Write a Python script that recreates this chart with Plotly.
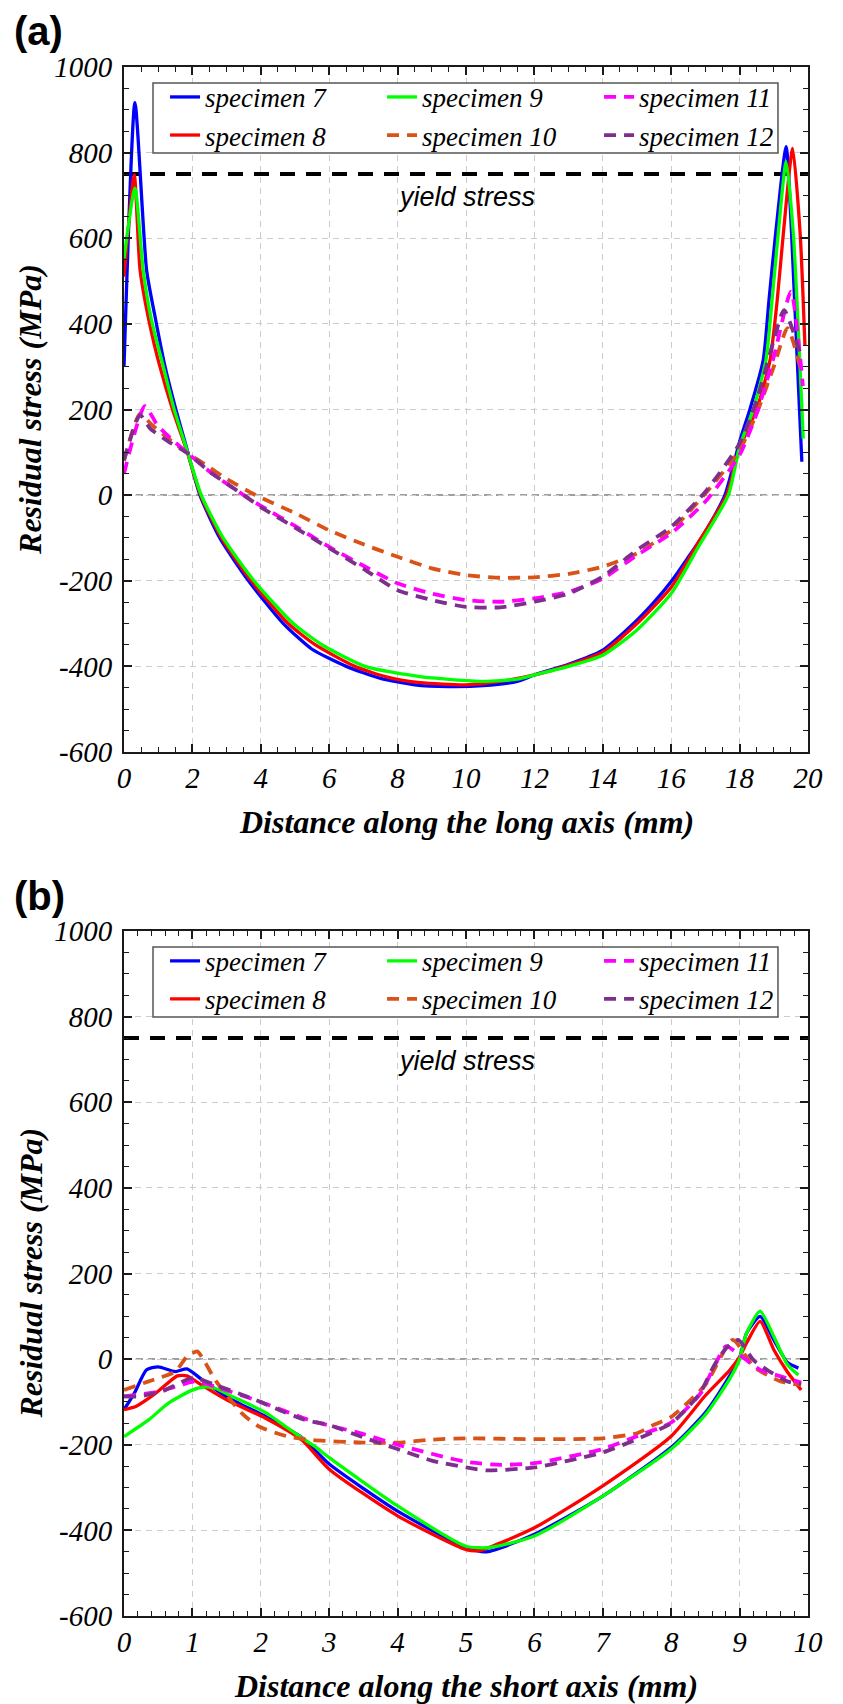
import plotly.graph_objects as go

# ---------------- data ----------------
SPECIMENS = ["specimen 7", "specimen 8", "specimen 9", "specimen 10", "specimen 11", "specimen 12"]
COLORS = ["#0000FF", "#FF0000", "#00FF00", "#D95319", "#FF00FF", "#7E2F8E"]
DASHES = ["solid", "solid", "solid", "12px,8px", "12px,8px", "12px,8px"]
LEGEND_RANK = [1, 4, 2, 5, 3, 6]

YIELD_STRESS = 750
YIELD_LABEL = "yield stress"

Y_TICKS = [-600, -400, -200, 0, 200, 400, 600, 800, 1000]
Y_TICKTEXT = ["-600", "-400", "-200", "0", "200", "400", "600", "800", "1000"]
XA_TICKS = [0, 2, 4, 6, 8, 10, 12, 14, 16, 18, 20]
XA_TICKTEXT = ["0", "2", "4", "6", "8", "10", "12", "14", "16", "18", "20"]
XB_TICKS = [0, 1, 2, 3, 4, 5, 6, 7, 8, 9, 10]
XB_TICKTEXT = ["0", "1", "2", "3", "4", "5", "6", "7", "8", "9", "10"]

# Panel (a): long axis
A7_X = [0, 0.32, 0.66, 0.9, 1.2, 1.5, 1.85, 2.22, 2.8, 3.64, 4.66, 5.5, 6.5, 7.5, 8.5, 9.5, 10.5, 11.5, 12, 13, 14,
        14.9, 15.5, 16, 16.5, 17, 17.57, 18, 18.3, 18.69, 18.86, 19.04, 19.36, 19.52, 19.82]
A7_Y = [300, 917, 526, 420, 300, 205, 105, 0, -100, -200, -300, -360, -400, -428, -443, -447, -445, -435, -420, -395, -362,
        -300, -250, -202, -145, -85, 0, 125, 200, 315, 456, 600, 814, 612, 78]

A8_X = [0, 0.3, 0.47, 0.75, 1.05, 1.42, 1.85, 2.24, 2.85, 3.72, 4.8, 5.6, 6.75, 7.7, 8.65, 10, 11, 12, 13, 14, 15, 16,
        16.8, 17.62, 18, 18.5, 18.89, 19.1, 19.28, 19.55, 19.77, 19.91]
A8_Y = [510, 748, 526, 400, 300, 200, 100, 0, -100, -200, -300, -350, -400, -425, -438, -443, -435, -420, -397, -367, -300, -215,
        -110, 0, 110, 200, 315, 456, 612, 810, 612, 350]

A9_X = [0, 0.32, 0.56, 0.8, 1.15, 1.45, 1.86, 2.26, 2.9, 3.8, 4.95, 5.8, 7.05, 8.65, 10.5, 11.5, 12, 13, 14, 15, 16, 16.8,
        17.67, 18, 18.4, 18.77, 18.95, 19.13, 19.36, 19.57, 19.86]
A9_Y = [553, 717, 526, 410, 300, 205, 100, 0, -100, -200, -300, -350, -400, -424, -435, -430, -420, -400, -374, -315, -230, -120,
        0, 113, 200, 315, 456, 612, 779, 612, 132]

A10_X = [0, 0.47, 0.8, 1.3, 1.88, 2.5, 3.0, 3.85, 5, 6, 7, 8, 9, 10, 11, 12, 13, 14, 15, 16, 17, 18, 18.5, 19.0, 19.4, 19.8]
A10_Y = [80, 190, 165, 132, 97, 65, 38, 0, -42, -82, -115, -144, -171, -187, -193, -192, -184, -167, -136, -82, 4, 105, 191, 300, 390, 290]

A11_X = [0, 0.61, 0.97, 1.4, 1.88, 2.5, 3.5, 4, 5, 6, 7, 8, 9, 10, 11, 12, 13, 14, 15, 16, 17, 18, 18.5, 19, 19.5, 19.85]
A11_Y = [50, 208, 164, 130, 97, 55, 0, -25, -72, -121, -165, -206, -230, -245, -249, -241, -226, -195, -140, -89, -15, 94, 191, 323, 475, 255]

A12_X = [0, 0.47, 0.76, 1.3, 1.88, 2.5, 3.5, 4, 5, 6, 7, 8, 9, 10, 11, 12, 13, 14, 15, 16, 17, 18, 18.5, 19, 19.3, 19.8]
A12_Y = [82, 187, 156, 125, 97, 55, 0, -28, -76, -124, -172, -222, -245, -261, -262, -249, -230, -190, -128, -74, 8, 121, 222, 362, 432, 323]

# Panel (b): short axis
B7_X = [0, 0.15, 0.33, 0.5, 0.75, 0.92, 1.14, 1.5, 2.07, 2.6, 3, 4, 5, 5.3, 6, 7, 8, 8.5, 8.86, 9.0, 9.1, 9.3, 9.5, 9.7, 9.86]
B7_Y = [-118, -80, -25, -18, -29, -23, -48, -88, -134, -183, -245, -355, -440, -450, -409, -320, -206, -125, -38, 2, 60, 100, 45, -8, -21]

B8_X = [0, 0.18, 0.47, 0.78, 0.92, 1.09, 1.5, 2.07, 2.6, 3, 4, 5, 5.2, 6, 7, 8, 8.5, 8.86, 9.0, 9.1, 9.3, 9.5, 9.7, 9.9]
B8_Y = [-118, -110, -79, -39, -39, -56, -95, -138, -189, -257, -366, -445, -447, -394, -296, -180, -85, -25, 5, 37, 88, 22, -30, -72]

B9_X = [0, 0.36, 0.65, 0.99, 1.19, 1.33, 1.58, 2.07, 2.5, 2.79, 3, 4, 5, 5.35, 6, 7, 8, 8.5, 8.86, 9.0, 9.1, 9.3, 9.5, 9.7, 9.86]
B9_Y = [-181, -142, -103, -73, -65, -68, -87, -125, -173, -204, -230, -343, -437, -440, -413, -320, -210, -130, -45, 0, 60, 112, 53, -13, -37]

B10_X = [0, 0.36, 0.75, 0.92, 1.07, 1.19, 1.33, 1.72, 1.97, 2.4, 2.75, 3.5, 4, 4.5, 5, 6, 7, 7.5, 7.74, 8.0, 8.5, 8.9, 9.2, 9.6, 9.9]
B10_Y = [-72, -52, -29, 6, 18, -9, -48, -126, -157, -181, -189, -195, -195, -188, -185, -187, -185, -173, -154, -135, -60, 45, -17, -52, -60]

B11_X = [0, 0.5, 0.92, 1.04, 1.33, 2, 2.7, 3.5, 4, 5, 5.5, 6, 7, 7.5, 8, 8.42, 8.62, 8.8, 9.0, 9.3, 9.6, 9.9]
B11_Y = [-87, -76, -56, -52, -64, -100, -142, -175, -200, -240, -247, -243, -210, -180, -148, -82, -20, 30, 10, -25, -40, -55]

B12_X = [0, 0.22, 0.56, 0.92, 1.04, 1.33, 1.92, 2.26, 2.65, 3, 3.5, 4, 4.5, 5, 5.3, 6, 6.5, 7, 7.5, 8, 8.2, 8.42, 8.62,
         8.8, 8.98, 9.2, 9.4, 9.7, 9.9]
B12_Y = [-87, -87, -75, -48, -44, -60, -95, -118, -142, -154, -183, -210, -237, -253, -260, -253, -237, -218, -187, -150, -120, -80, -17,
         25, 45, -2, -25, -52, -58]

PANEL_A = [(A7_X, A7_Y), (A8_X, A8_Y), (A9_X, A9_Y), (A10_X, A10_Y), (A11_X, A11_Y), (A12_X, A12_Y)]
PANEL_B = [(B7_X, B7_Y), (B8_X, B8_Y), (B9_X, B9_Y), (B10_X, B10_Y), (B11_X, B11_Y), (B12_X, B12_Y)]

# ---------------- figure ----------------
SERIF = "Liberation Serif"
SANS = "Liberation Sans"

fig = go.Figure()

for panel, xa, ya, leg in [(PANEL_A, "x", "y", "legend"), (PANEL_B, "x2", "y2", "legend2")]:
    for i, (xs, ys) in enumerate(panel):
        solid = DASHES[i] == "solid"
        fig.add_trace(go.Scatter(
            x=xs, y=ys, mode="lines", name=SPECIMENS[i],
            line=dict(color=COLORS[i], width=3.3 if solid else 3.8, dash=DASHES[i],
                      shape="spline", smoothing=0.6),
            xaxis=xa, yaxis=ya, legend=leg, legendrank=LEGEND_RANK[i],
            showlegend=True, hoverinfo="skip",
        ))

tickfont = dict(family=SERIF, size=29, style="italic", color="black")


def xaxis(rng, ticks, text, minor_dt, anchor):
    return dict(
        range=rng, tickmode="array", tickvals=ticks, ticktext=text, anchor=anchor, automargin=False,
        showline=True, linecolor="#1a1a1a", linewidth=2, mirror="allticks",
        ticks="inside", ticklen=8, tickwidth=1.5, tickcolor="#1a1a1a",
        showgrid=True, gridcolor="#cccccc", gridwidth=1, griddash="6px,5px",
        zeroline=False, tickfont=tickfont, ticklabelstandoff=-1,
        minor=dict(dtick=minor_dt, tick0=0, ticks="inside", ticklen=5, tickwidth=1.2,
                   tickcolor="#1a1a1a", showgrid=False),
        domain=[0, 1],
    )


def yaxis(domain, anchor):
    return dict(
        range=[-600, 1000], tickmode="array", tickvals=Y_TICKS, ticktext=Y_TICKTEXT, anchor=anchor, automargin=False,
        showline=True, linecolor="#1a1a1a", linewidth=2, mirror="allticks",
        ticks="inside", ticklen=8, tickwidth=1.5, tickcolor="#1a1a1a",
        showgrid=True, gridcolor="#cccccc", gridwidth=1, griddash="6px,5px",
        zeroline=False, tickfont=tickfont, ticklabelstandoff=4,
        minor=dict(dtick=50, tick0=0, ticks="inside", ticklen=5, tickwidth=1.2,
                   tickcolor="#1a1a1a", showgrid=False),
        domain=domain,
    )


TOP_A = [0.55778, 1.0]
BOT_B = [0.0, 0.44222]

legend_common = dict(
    orientation="h", xanchor="left", yanchor="top", x=0.06,
    entrywidth=172, entrywidthmode="pixels", itemwidth=30,
    bgcolor="rgba(0,0,0,0)", borderwidth=0,
    font=dict(family=SERIF, size=27, style="italic", color="black"),
    tracegroupgap=0, traceorder="normal",
)

title_font = dict(family=SERIF, size=32, style="italic", weight="bold", color="black")
panel_font = dict(family=SANS, size=40, weight="bold", color="black")
yield_font = dict(family=SANS, size=27, style="italic", color="black")

annotations = [
    dict(text="(a)", xref="paper", yref="paper", x=-0.1638, y=1.023, xanchor="left", yanchor="middle",
         showarrow=False, font=panel_font),
    dict(text="(b)", xref="paper", yref="paper", x=-0.1638, y=0.4645, xanchor="left", yanchor="middle",
         showarrow=False, font=panel_font),
    dict(text="Distance along the long axis (mm)", xref="paper", yref="paper", x=0.5, y=0.5125,
         xanchor="center", yanchor="middle", showarrow=False, font=title_font),
    dict(text="Distance along the short axis (mm)", xref="paper", yref="paper", x=0.5, y=-0.045,
         xanchor="center", yanchor="middle", showarrow=False, font=title_font),
    dict(text="Residual stress (MPa)", xref="paper", yref="paper", x=-0.1374, y=0.7786, textangle=-90,
         xanchor="center", yanchor="middle", showarrow=False, font=title_font),
    dict(text="Residual stress (MPa)", xref="paper", yref="paper", x=-0.1374, y=0.2211, textangle=-90,
         xanchor="center", yanchor="middle", showarrow=False, font=title_font),
    dict(text=YIELD_LABEL, xref="x", yref="y", x=10, y=YIELD_STRESS - 54, xanchor="center", yanchor="middle",
         showarrow=False, font=yield_font),
    dict(text=YIELD_LABEL, xref="x2", yref="y2", x=5, y=YIELD_STRESS - 54, xanchor="center", yanchor="middle",
         showarrow=False, font=yield_font),
]

shapes = []
for xr, yr in [("x domain", "y"), ("x2 domain", "y2")]:
    shapes.append(dict(type="line", xref=xr, yref=yr, x0=0, x1=1, y0=0, y1=0, layer="below",
                       line=dict(color="#808080", width=1.5, dash="7px,5px")))
    shapes.append(dict(type="line", xref=xr, yref=yr, x0=0, x1=1, y0=YIELD_STRESS, y1=YIELD_STRESS,
                       layer="below", line=dict(color="black", width=4, dash="15px,11px")))
# legend frames
for top, bot in [(0.98967, 0.94448), (0.43189, 0.38670)]:
    shapes.append(dict(type="rect", xref="paper", yref="paper", x0=0.0424, x1=0.9561, y0=bot, y1=top,
                       layer="above", fillcolor="white", line=dict(color="#555555", width=1.5)))

fig.update_layout(
    width=843, height=1704,
    margin=dict(l=124, r=35, t=67, b=88),
    paper_bgcolor="white", plot_bgcolor="white",
    xaxis=xaxis([0, 20], XA_TICKS, XA_TICKTEXT, 0.5, "y"),
    yaxis=yaxis(TOP_A, "x"),
    xaxis2=xaxis([0, 10], XB_TICKS, XB_TICKTEXT, 0.2, "y2"),
    yaxis2=yaxis(BOT_B, "x2"),
    legend=dict(legend_common, y=0.9962),
    legend2=dict(legend_common, y=0.4385),
    annotations=annotations,
    shapes=shapes,
    showlegend=True,
)

fig.write_html("out.html", config={"displayModeBar": False},
               post_script="document.body.style.margin='0';document.body.style.padding='0';")
